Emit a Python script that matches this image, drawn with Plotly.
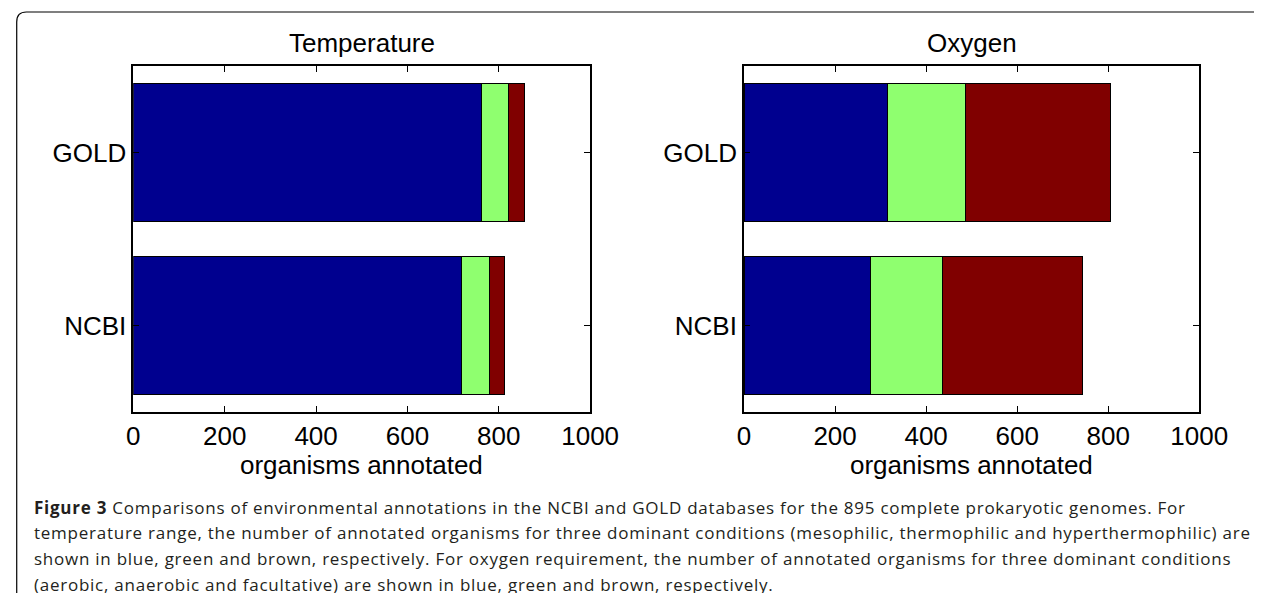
import plotly.graph_objects as go

W, H = 1283, 601

databases = ["NCBI", "GOLD"]
temp_series = ["mesophilic", "thermophilic", "hyperthermophilic"]
temp_values = {
    "mesophilic": [719, 762],
    "thermophilic": [60, 59],
    "hyperthermophilic": [34, 35],
}
oxy_series = ["aerobic", "anaerobic", "facultative"]
oxy_values = {
    "aerobic": [278, 316],
    "anaerobic": [157, 171],
    "facultative": [309, 317],
}
colors = ["#00008F", "#8FFF6F", "#800000"]
x_ticks = [0, 200, 400, 600, 800, 1000]
panel_titles = ["Temperature", "Oxygen"]
x_title = "organisms annotated"

fig = go.Figure()
for i, s in enumerate(temp_series):
    fig.add_trace(go.Bar(y=databases, x=temp_values[s], orientation="h", name=s,
                         marker=dict(color=colors[i], line=dict(color="black", width=1)),
                         width=0.8, xaxis="x", yaxis="y", showlegend=False))
for i, s in enumerate(oxy_series):
    fig.add_trace(go.Bar(y=databases, x=oxy_values[s], orientation="h", name=s,
                         marker=dict(color=colors[i], line=dict(color="black", width=1)),
                         width=0.8, xaxis="x2", yaxis="y2", showlegend=False))

ydom = [1 - 412 / H, 1 - 66 / H]
xdom1 = [130 / W, 600 / W]
xdom2 = [758.3 / W, 1226.7 / W]
tickfont = dict(family="Liberation Sans, Arial", size=26, color="black")

common_x = dict(range=[0, 1000], tickvals=x_ticks, ticks="inside", ticklen=6, tickcolor="black",
                showline=True, linecolor="black", linewidth=1.8, mirror="ticks", showgrid=False,
                zeroline=False, tickfont=tickfont, fixedrange=True)
common_y = dict(range=[-0.5, 1.5], categoryorder="array", categoryarray=databases,
                ticks="inside", ticklen=6, tickcolor="black", showline=True, linecolor="black",
                linewidth=1.8, mirror="ticks", showgrid=False, zeroline=False, tickfont=tickfont,
                fixedrange=True)

# width/height come from the div (default_width/default_height below)
fig.update_layout(
    autosize=True, barmode="stack", bargap=0.2,
    margin=dict(l=0, r=0, t=0, b=0),
    paper_bgcolor="white", plot_bgcolor="white",
    xaxis=dict(domain=xdom1, anchor="y", **common_x),
    yaxis=dict(domain=ydom, anchor="x", **common_y),
    xaxis2=dict(domain=xdom2, anchor="y2", **common_x),
    yaxis2=dict(domain=ydom, anchor="x2", **common_y),
)

for t, dom in zip(panel_titles, [xdom1, xdom2]):
    xc = (dom[0] + dom[1]) / 2
    fig.add_annotation(text=t, x=xc, y=1 - 43 / H, xref="paper", yref="paper",
                       showarrow=False, font=tickfont, xanchor="center", yanchor="middle")
    fig.add_annotation(text=x_title, x=xc, y=1 - 465 / H, xref="paper", yref="paper",
                       showarrow=False, font=tickfont, xanchor="center", yanchor="middle")

# rounded frame around the figure
fig.add_shape(type="path", xref="paper", yref="paper",
              path=f"M {10/W} 0 L {10/W} {1-22/H} Q {10/W} {1-12/H} {20/W} {1-12/H} L 1 {1-12/H}",
              line=dict(color="black", width=1.2))

caption = [
    "<b>Figure 3</b> Comparisons of environmental annotations in the NCBI and GOLD databases for the 895 complete prokaryotic genomes. For",
    "temperature range, the number of annotated organisms for three dominant conditions (mesophilic, thermophilic and hyperthermophilic) are",
    "shown in blue, green and brown, respectively. For oxygen requirement, the number of annotated organisms for three dominant conditions",
    "(aerobic, anaerobic and facultative) are shown in blue, green and brown, respectively.",
]
cap_font = dict(family="Open Sans", size=17, color="#231f20")
for k, line in enumerate(caption):
    fig.add_annotation(text=line, x=26 / W, y=1 - (507 + 25.7 * k) / H, xref="paper", yref="paper",
                       showarrow=False, font=cap_font, xanchor="left", yanchor="middle", align="left")

post = """
document.querySelectorAll('text.annotation-text').forEach(function(t){
  if (t.style.fontSize === '17px') { t.style.letterSpacing = '0.75px'; }
});
"""
fig.write_html("out.html", post_script=post,
               config={"displayModeBar": False, "responsive": False},
               default_width=f"{W}px; margin:-8px", default_height=f"{H}px")
